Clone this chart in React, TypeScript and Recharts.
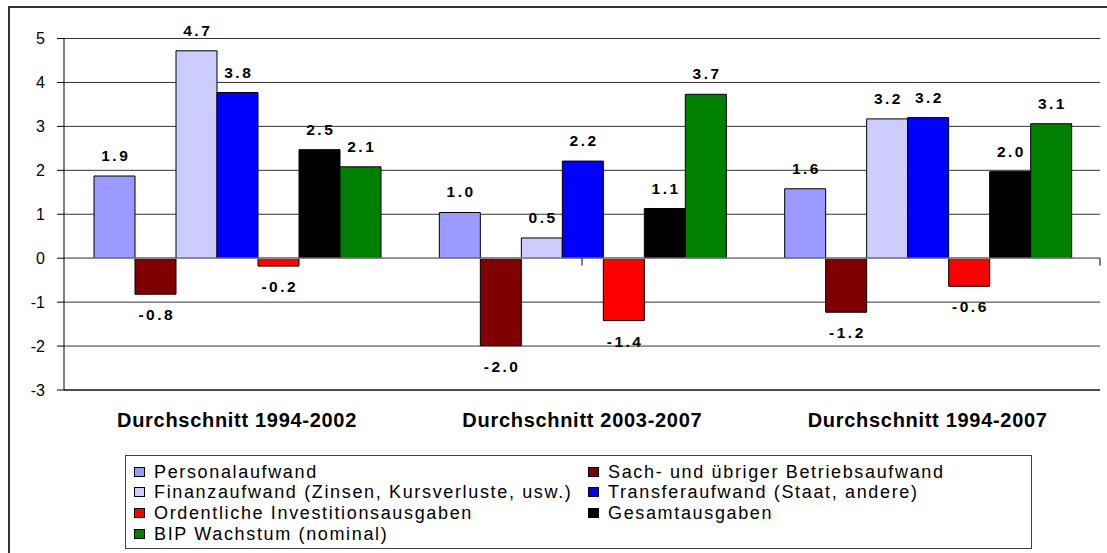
import React from "react";
import {
  Bar,
  BarChart,
  CartesianGrid,
  LabelList,
  Legend,
  ReferenceLine,
  XAxis,
  YAxis,
} from "recharts";

// Durchschnittliches Wachstum in % pro Jahr
const categories = [
  "Durchschnitt 1994-2002",
  "Durchschnitt 2003-2007",
  "Durchschnitt 1994-2007",
];
const personalaufwand = [1.87, 1.04, 1.58];
const sachaufwand = [-0.82, -1.99, -1.23];
const finanzaufwand = [4.72, 0.46, 3.17];
const transferaufwand = [3.77, 2.21, 3.2];
const investitionen = [-0.18, -1.42, -0.64];
const gesamtausgaben = [2.47, 1.13, 1.97];
const bipWachstum = [2.08, 3.73, 3.06];

const yTicks = [-3, -2, -1, 0, 1, 2, 3, 4, 5];
const groupEdges = [1, 2, 3];

const series = [
  { key: "personal", name: "Personalaufwand", color: "#9999FF", values: personalaufwand },
  { key: "sach", name: "Sach- und übriger Betriebsaufwand", color: "#800000", values: sachaufwand },
  { key: "finanz", name: "Finanzaufwand (Zinsen, Kursverluste, usw.)", color: "#CCCCFF", values: finanzaufwand },
  { key: "transfer", name: "Transferaufwand (Staat, andere)", color: "#0000FF", values: transferaufwand },
  { key: "invest", name: "Ordentliche Investitionsausgaben", color: "#FF0000", values: investitionen },
  { key: "gesamt", name: "Gesamtausgaben", color: "#000000", values: gesamtausgaben },
  { key: "bip", name: "BIP Wachstum (nominal)", color: "#008000", values: bipWachstum },
];

const data = categories.map((category, i) => {
  const row: Record<string, string | number> = { category };
  series.forEach((s) => {
    row[s.key] = s.values[i];
  });
  return row;
});

const font = "'Liberation Sans', Arial, Helvetica, sans-serif";

function ValueLabel(props: any) {
  const { x, y, width, height, value } = props;
  const top = Math.min(y, y + height);
  const bottom = Math.max(y, y + height);
  const ty = value >= 0 ? top - 15 : bottom + 26;
  return (
    <text
      x={x + width / 2}
      y={ty}
      dx={1.25}
      textAnchor="middle"
      fontFamily={font}
      fontSize={15.5}
      fontWeight="bold"
      letterSpacing={2.5}
      fill="#000"
    >
      {Number(value).toFixed(1)}
    </text>
  );
}

function CategoryTick(props: any) {
  const { x, y, payload } = props;
  return (
    <text
      x={x}
      y={y}
      dy={37}
      dx={0.35}
      textAnchor="middle"
      fontFamily={font}
      fontSize={20}
      fontWeight="bold"
      letterSpacing={0.7}
      fill="#000"
    >
      {payload.value}
    </text>
  );
}

// legend laid out in two columns, row by row, in series order
function LegendBox() {
  return (
    <div
      style={{
        position: "relative",
        width: 907,
        height: 94,
        boxSizing: "border-box",
        border: "1px solid #404040",
        background: "#fff",
        fontFamily: font,
      }}
    >
      {series.map((s, i) => (
        <div
          key={s.key}
          style={{
            position: "absolute",
            left: 8 + (i % 2) * 454,
            top: 5.5 + Math.floor(i / 2) * 20.9,
            height: 20,
            display: "flex",
            alignItems: "center",
            whiteSpace: "nowrap",
          }}
        >
          <span
            style={{
              display: "inline-block",
              width: 11,
              height: 10,
              boxSizing: "border-box",
              border: "1px solid #000",
              background: s.color,
              marginRight: 9,
            }}
          />
          <span
            style={{
              fontSize: 18,
              lineHeight: "20px",
              letterSpacing: 1.65,
              color: "#000",
            }}
          >
            {s.name}
          </span>
        </div>
      ))}
    </div>
  );
}

export default function App() {
  return (
    <div style={{ position: "fixed", left: 0, top: 0, width: 1107, height: 553, overflow: "hidden", background: "#fff" }}>
      <div
        style={{
          position: "absolute",
          left: 8,
          top: 6,
          width: 1200,
          height: 700,
          borderLeft: "2px solid #333",
          borderTop: "2px solid #333",
        }}
      />
      <div style={{ position: "absolute", left: 0, top: 0 }}>
        <BarChart
          width={1107}
          height={553}
          data={data}
          margin={{ top: 38.5, right: 7, bottom: 123, left: 0 }}
          barCategoryGap={30}
          barGap={0}
        >
          <CartesianGrid vertical={false} stroke="#333" />
          <ReferenceLine y={0} stroke="#888" strokeWidth={1.5} />
          <XAxis
            dataKey="category"
            height={40}
            tickSize={0}
            tickMargin={0}
            tickLine={false}
            axisLine={{ stroke: "#000" }}
            tick={<CategoryTick />}
            interval={0}
          />
          <XAxis xAxisId="edges" type="number" domain={[0, 3]} hide />
          <YAxis
            domain={[-3, 5]}
            ticks={yTicks}
            interval={0}
            width={64}
            tickSize={7}
            tickMargin={12}
            axisLine={{ stroke: "#000" }}
            tickLine={{ stroke: "#000" }}
            tick={{ fontSize: 16, fill: "#000", fontFamily: font }}
          />
          {groupEdges.map((e) => (
            <ReferenceLine
              key={e}
              xAxisId="edges"
              segment={[
                { x: e, y: 0 },
                { x: e, y: -0.17 },
              ]}
              stroke="#000"
            />
          ))}
          {series.map((s) => (
            <Bar
              key={s.key}
              dataKey={s.key}
              name={s.name}
              fill={s.color}
              stroke="#000"
              strokeWidth={1}
              isAnimationActive={false}
            >
              <LabelList dataKey={s.key} content={<ValueLabel />} />
            </Bar>
          ))}
          <Legend
            layout="horizontal"
            verticalAlign="middle"
            align="center"
            wrapperStyle={{ position: "absolute", left: 125, top: 455, width: 907, height: 94 }}
            content={<LegendBox />}
          />
        </BarChart>
      </div>
    </div>
  );
}
